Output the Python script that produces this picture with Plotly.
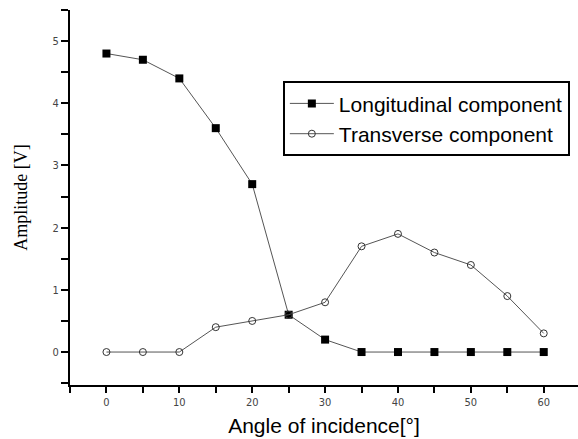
import plotly.graph_objects as go

angles = [0, 5, 10, 15, 20, 25, 30, 35, 40, 45, 50, 55, 60]
longitudinal = [4.8, 4.7, 4.4, 3.6, 2.7, 0.6, 0.2, 0, 0, 0, 0, 0, 0]
transverse = [0, 0, 0, 0.4, 0.5, 0.6, 0.8, 1.7, 1.9, 1.6, 1.4, 0.9, 0.3]

fig = go.Figure()
fig.add_trace(go.Scatter(
    x=angles, y=longitudinal, mode="lines+markers", name="Longitudinal component",
    line=dict(color="#555555", width=1),
    marker=dict(symbol="square", size=8, color="black", line=dict(color="black", width=0)),
))
fig.add_trace(go.Scatter(
    x=angles, y=transverse, mode="lines+markers", name="Transverse component",
    line=dict(color="#555555", width=1),
    marker=dict(symbol="circle-open", size=7, color="#333333", line=dict(width=1)),
))

fig.update_layout(
    width=578, height=439,
    margin=dict(l=70, r=0, t=10, b=54),
    paper_bgcolor="white", plot_bgcolor="white",
    showlegend=True,
    legend=dict(
        x=0.419, y=0.81, xanchor="left", yanchor="top",
        bordercolor="black", borderwidth=2, bgcolor="white",
        font=dict(family="Liberation Sans, Arial, sans-serif", size=21, color="black"),
        tracegroupgap=0, itemwidth=44,
    ),
    xaxis=dict(
        range=[-5, 64.7], showgrid=False, zeroline=False,
        showline=True, linecolor="black", linewidth=2,
        ticks="outside", tickcolor="black", ticklen=6, tickwidth=2,
        tick0=0, dtick=10,
        minor=dict(dtick=5, tick0=0, ticks="outside", ticklen=6, tickwidth=2, tickcolor="black"),
        tickfont=dict(family="DejaVu Sans Condensed, DejaVu Sans, sans-serif", size=11, color="#444444"),
        title=dict(text="Angle of incidence[°]", standoff=10,
                   font=dict(family="Liberation Sans, Arial, sans-serif", size=21, color="black")),
    ),
    yaxis=dict(
        range=[-0.53, 5.5], showgrid=False, zeroline=False,
        showline=True, linecolor="black", linewidth=2,
        ticks="outside", tickcolor="black", ticklen=7, tickwidth=2,
        tick0=0, dtick=1,
        minor=dict(dtick=0.5, tick0=0, ticks="outside", ticklen=7, tickwidth=2, tickcolor="black"),
        tickfont=dict(family="DejaVu Sans Condensed, DejaVu Sans, sans-serif", size=11, color="#444444"),
        title=dict(text="Amplitude [V]", standoff=20,
                   font=dict(family="Liberation Serif, Times New Roman, serif", size=18, color="black")),
    ),
)

fig.write_html("out.html")
